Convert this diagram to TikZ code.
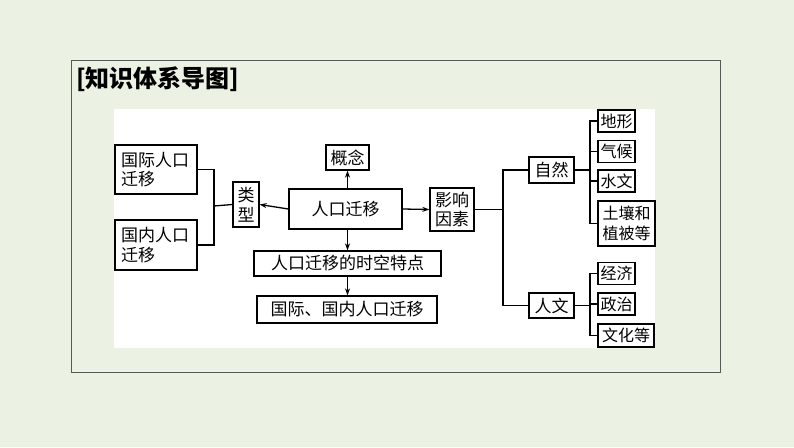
\documentclass[tikz,border=0pt]{standalone}
\usepackage{fontspec}
\newfontfamily\cjk{Noto Sans CJK SC}
\usetikzlibrary{arrows.meta}
\definecolor{bgc}{RGB}{235,242,227}
\definecolor{framec}{RGB}{85,90,85}
\tikzset{
  box/.style={draw=black, line width=1.3pt, fill=white, inner sep=0pt, font=\cjk\fontsize{17}{19.5}\selectfont, align=center},
  leaf/.style={box, font=\cjk\fontsize{16}{19.5}\selectfont},
  conn/.style={line width=1.3pt},
  arr/.style={conn, -{Stealth[length=7pt,width=5pt]}}
}
\begin{document}
\begin{tikzpicture}[x=1pt,y=-1pt]
\useasboundingbox (0,0) rectangle (794,447);
\fill[bgc] (0,0) rectangle (794,447);
\draw[framec, line width=0.9pt] (71.5,60.5) rectangle (720,372);
\fill[white] (114,109) rectangle (655,348);
\node[anchor=west, inner sep=0pt, font=\cjk\bfseries\fontsize{24}{26}\selectfont] (title) at (76,79) {[知识体系导图]};

\node[box, minimum width=82pt, minimum height=49pt, text width=70pt, align=left] (intl) at (156,169.5) {国际人口\\迁移};
\node[box, minimum width=82pt, minimum height=50pt, text width=70pt, align=left] (dom) at (156,245) {国内人口\\迁移};
\node[box, minimum width=26pt, minimum height=45pt] (type) at (246,204.5) {类\\型};
\node[box, minimum width=113pt, minimum height=40pt] (main) at (345.5,209) {人口迁移};
\node[box, minimum width=43pt, minimum height=25pt] (concept) at (347.5,157.5) {概念};
\node[box, minimum width=187pt, minimum height=25pt] (feat) at (347.5,263.5) {人口迁移的时空特点};
\node[box, minimum width=180pt, minimum height=27pt] (both) at (347,309.5) {国际、国内人口迁移};
\node[box, minimum width=44pt, minimum height=43pt] (infl) at (452,209.5) {影响\\因素};
\node[box, minimum width=45pt, minimum height=26pt] (nat) at (551.5,170) {自然};
\node[box, minimum width=45pt, minimum height=25pt] (hum) at (551.5,305.5) {人文};

\node[leaf, minimum width=37pt, minimum height=22pt] (terrain) at (616.5,121) {地形};
\node[leaf, minimum width=37pt, minimum height=22pt] (climate) at (616.5,151.5) {气候};
\node[leaf, minimum width=37pt, minimum height=22pt] (water) at (616.5,181) {水文};
\node[leaf, minimum width=57pt, minimum height=45pt] (soil) at (626.5,223.5) {土壤和\\植被等};
\node[leaf, minimum width=37pt, minimum height=22pt] (econ) at (616.5,273.5) {经济};
\node[leaf, minimum width=37pt, minimum height=22pt] (pol) at (616.5,304) {政治};
\node[leaf, minimum width=56pt, minimum height=23pt] (cult) at (626,335.5) {文化等};

% arrows from the centre
\draw[arr] (main.north -| concept.south) -- (concept.south);
\draw[arr] (main.west) -- (type.east);
\draw[arr] (main.east) -- (infl.west);
\draw[arr] (main.south -| feat.north) -- (feat.north);
\draw[arr] (feat.south) -- (feat.south |- both.north);

% left tree
\coordinate (jL) at (214,206);
\draw[conn] (intl.east) -| (jL) |- (dom.east);
\draw[conn] (jL) -- (type.west);

% right tree
\coordinate (jR) at (503,209.5);
\draw[conn] (infl.east) -- (jR);
\draw[conn] (nat.west) -| (jR) |- (hum.west);

\coordinate (jN) at (590,170);
\draw[conn] (nat.east) -- (jN);
\draw[conn] (terrain.west) -| (jN) |- (soil.west);
\draw[conn] (jN |- climate.west) -- (climate.west);
\draw[conn] (jN |- water.west) -- (water.west);

\coordinate (jH) at (590,305.5);
\draw[conn] (hum.east) -- (jH);
\draw[conn] (econ.west) -| (jH) |- (cult.west);
\draw[conn] (jH |- pol.west) -- (pol.west);
\end{tikzpicture}
\end{document}
